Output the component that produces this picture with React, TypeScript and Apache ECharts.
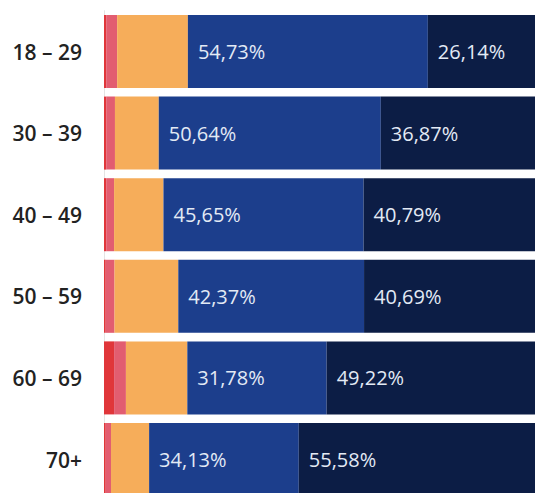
import React, { useEffect, useRef } from "react";
import * as echarts from "echarts";

const categories = ["18 – 29", "30 – 39", "40 – 49", "50 – 59", "60 – 69", "70+"];
const redValues = [0.5, 0.5, 0.5, 0.4, 2.3, 0.4];
const pinkValues = [2.5, 2.0, 1.8, 2.0, 2.7, 1.2];
const orangeValues = [16.13, 9.99, 11.26, 14.54, 14.0, 8.69];
const blueValues = [54.73, 50.64, 45.65, 42.37, 31.78, 34.13];
const navyValues = [26.14, 36.87, 40.79, 40.69, 49.22, 55.58];

const fmt = (v: number) => v.toFixed(2).replace(".", ",") + "%";

export default function App() {
  const ref = useRef<HTMLDivElement>(null);
  useEffect(() => {
    if (!ref.current) return;
    document.body.style.overflow = "hidden";
    const chart = echarts.init(ref.current, undefined, { renderer: "svg" });
    const label = {
      show: true,
      position: "insideLeft" as const,
      distance: 10,
      color: "#e3eaf5",
      fontSize: 20,
      fontFamily: "Open Sans",
      formatter: (p: any) => fmt(p.value),
    };
    const mk = (name: string, data: number[], color: string, withLabel: boolean) => ({
      name,
      type: "bar",
      stack: "total",
      data,
      barCategoryGap: "10.5%",
      itemStyle: { color },
      label: withLabel ? label : { show: false },
      emphasis: { disabled: true },
    });
    chart.setOption({
      animation: false,
      backgroundColor: "#ffffff",
      grid: { left: 104, right: 0, top: 10.7, height: 489.6, containLabel: false },
      xAxis: { type: "value", min: 0, max: 98.3, show: false },
      yAxis: {
        type: "category",
        data: categories,
        inverse: true,
        axisLine: { show: true, lineStyle: { color: "#e4e4e4", width: 1 } },
        axisTick: { show: false },
        axisLabel: {
          margin: 22,
          fontSize: 21,
          fontWeight: 600,
          color: "#222222",
          fontFamily: "Open Sans",
        },
      },
      series: [
        mk("red", redValues, "#e0363a", false),
        mk("pink", pinkValues, "#e25d70", false),
        mk("orange", orangeValues, "#f6ad5a", false),
        mk("blue", blueValues, "#1c3e8c", true),
        mk("navy", navyValues, "#0c1d45", true),
      ],
    });
    return () => chart.dispose();
  }, []);
  return (
    <div
      ref={ref}
      style={{ position: "fixed", left: 0, top: 0, width: 535, height: 510, background: "#fff" }}
    />
  );
}
